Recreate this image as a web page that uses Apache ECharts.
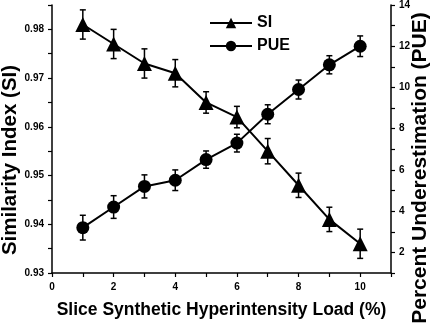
<!DOCTYPE html>
<html>
<head>
<meta charset="utf-8">
<script src="https://cdn.jsdelivr.net/npm/echarts@6/dist/echarts.min.js"></script>
<style>
  html, body { margin: 0; padding: 0; background: #fff; }
  #chart { width: 432px; height: 324px; }
</style>
</head>
<body>
<div id="chart"></div>
<script>
// datos
const loads = [1, 2, 3, 4, 5, 6, 7, 8, 9, 10];
const siValues = [0.981, 0.977, 0.973, 0.971, 0.965, 0.962, 0.955, 0.948, 0.941, 0.936];
const siErrors = [0.003, 0.003, 0.003, 0.0028, 0.0022, 0.0022, 0.0026, 0.0025, 0.0025, 0.003];
const pueValues = [3.2, 4.2, 5.2, 5.5, 6.5, 7.3, 8.7, 9.9, 11.1, 12.0];
const pueErrors = [0.6, 0.55, 0.56, 0.5, 0.42, 0.43, 0.46, 0.46, 0.44, 0.5];

const myChart = echarts.init(document.getElementById('chart'));

const font = 'Liberation Sans, Arial, sans-serif';

// barras de error dibujadas con custom series
function errorBars(values, errors) {
  return loads.map((x, i) => [x, values[i] - errors[i], values[i] + errors[i]]);
}

function renderError(params, api) {
  const x = api.value(0);
  const low = api.coord([x, api.value(1)]);
  const high = api.coord([x, api.value(2)]);
  const cap = 3;
  const style = { stroke: '#000', lineWidth: 1.5 };
  return {
    type: 'group',
    children: [
      { type: 'line', shape: { x1: low[0], y1: low[1], x2: high[0], y2: high[1] }, style: style },
      { type: 'line', shape: { x1: low[0] - cap, y1: low[1], x2: low[0] + cap, y2: low[1] }, style: style },
      { type: 'line', shape: { x1: high[0] - cap, y1: high[1], x2: high[0] + cap, y2: high[1] }, style: style }
    ]
  };
}

const axisLine = { show: true, onZero: false, lineStyle: { color: '#000', width: 1.5 } };
const axisTick = { show: true, inside: false, length: 4, lineStyle: { color: '#000', width: 1.2 } };
const labelStyle = { color: '#000', fontFamily: font, fontWeight: 'bold', fontSize: 10 };

// titulos de los ejes verticales como texto (para posicionarlos igual que la figura)
function axisTitle(text, x, y, size) {
  return {
    type: 'text',
    x: x,
    y: y,
    rotation: Math.PI / 2,
    style: {
      text: text,
      fill: '#000',
      font: 'bold ' + size + 'px ' + font,
      textAlign: 'center',
      textVerticalAlign: 'middle',
      align: 'center',
      verticalAlign: 'middle'
    }
  };
}

let option = {
  animation: false,
  backgroundColor: '#fff',
  grid: { left: 52, right: 41, top: 4, bottom: 47 },
  graphic: [
    axisTitle('Similarity Index (SI)', 10, 160, 20.5),
    axisTitle('Percent Underestimation (PUE)', 420, 168, 21)
  ],
  legend: {
    orient: 'vertical',
    left: 204,
    top: 10,
    itemWidth: 42,
    itemHeight: 13,
    itemGap: 7,
    textStyle: { color: '#000', fontFamily: font, fontWeight: 'bold', fontSize: 16 },
    data: ['SI', 'PUE']
  },
  xAxis: {
    type: 'value',
    min: 0,
    max: 11,
    interval: 1,
    name: 'Slice Synthetic Hyperintensity Load (%)',
    nameLocation: 'middle',
    nameGap: 28,
    nameTextStyle: { color: '#000', fontFamily: font, fontWeight: 'bold', fontSize: 17.5 },
    axisLine: axisLine,
    axisTick: axisTick,
    splitLine: { show: false },
    axisLabel: Object.assign({}, labelStyle, {
      margin: 9,
      formatter: v => (v % 2 === 0 && v <= 10 ? String(v) : '')
    })
  },
  yAxis: [
    {
      type: 'value',
      min: 0.93,
      max: 0.985,
      interval: 0.005,
      position: 'left',
      axisLine: axisLine,
      axisTick: axisTick,
      splitLine: { show: false },
      axisLabel: Object.assign({}, labelStyle, {
        margin: 8,
        formatter: v => (Math.round(v * 1000) % 10 === 0 ? v.toFixed(2) : '')
      })
    },
    {
      type: 'value',
      min: 1,
      max: 14,
      interval: 1,
      position: 'right',
      axisLine: axisLine,
      axisTick: axisTick,
      splitLine: { show: false },
      axisLabel: Object.assign({}, labelStyle, {
        margin: 8,
        formatter: v => (v % 2 === 0 ? String(v) : '')
      })
    }
  ],
  series: [
    {
      name: 'SI',
      type: 'line',
      yAxisIndex: 0,
      data: loads.map((x, i) => [x, siValues[i]]),
      symbol: 'triangle',
      symbolSize: 15,
      lineStyle: { color: '#000', width: 2 },
      itemStyle: { color: '#000' },
      z: 3
    },
    {
      name: 'PUE',
      type: 'line',
      yAxisIndex: 1,
      data: loads.map((x, i) => [x, pueValues[i]]),
      symbol: 'circle',
      symbolSize: 13,
      lineStyle: { color: '#000', width: 2 },
      itemStyle: { color: '#000' },
      z: 3
    },
    {
      type: 'custom',
      yAxisIndex: 0,
      renderItem: renderError,
      data: errorBars(siValues, siErrors),
      encode: { x: 0, y: [1, 2] },
      z: 2
    },
    {
      type: 'custom',
      yAxisIndex: 1,
      renderItem: renderError,
      data: errorBars(pueValues, pueErrors),
      encode: { x: 0, y: [1, 2] },
      z: 2
    }
  ]
};

myChart.setOption(option);
</script>
</body>
</html>
